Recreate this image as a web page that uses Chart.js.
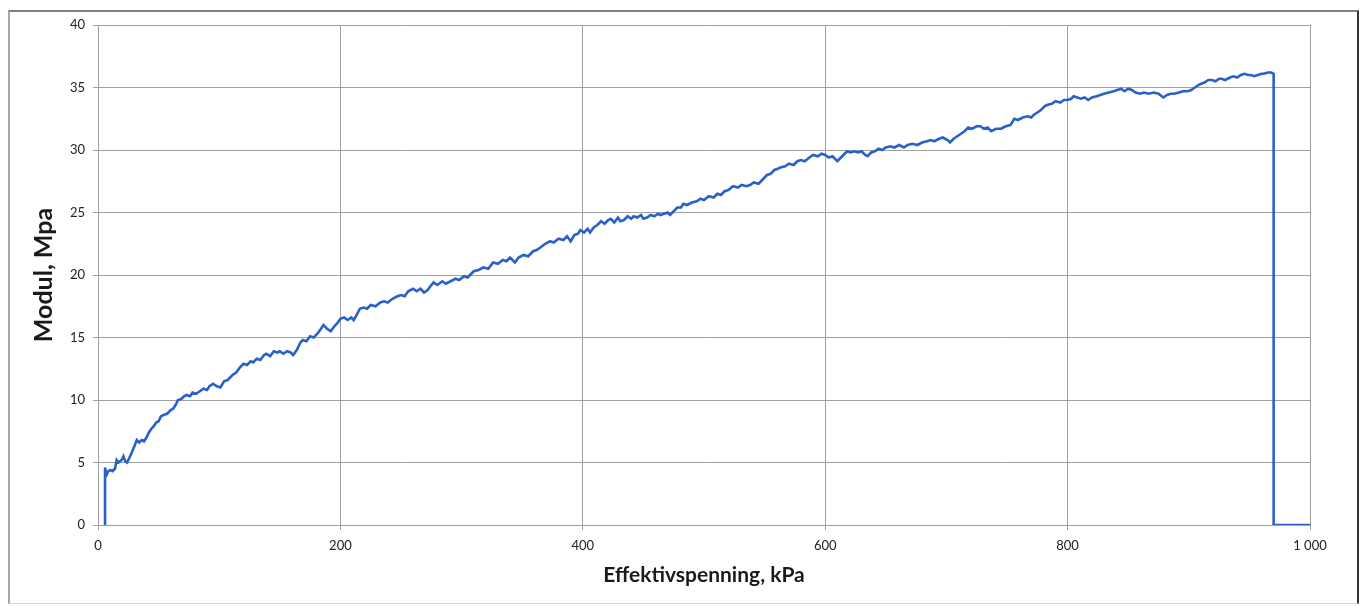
<!DOCTYPE html>
<html>
<head>
<meta charset="utf-8">
<script src="https://cdn.jsdelivr.net/npm/chart.js@4"></script>
<style>
  html, body { margin: 0; padding: 0; background: #fff; }
  #wrap { position: relative; width: 1359px; height: 607px; }
  #frame {
    position: absolute; left: 8px; top: 10px; width: 1347px; height: 591px;
    border-left: 2px solid #a8a8a8; border-top: 2px solid #808080;
    border-right: 2px solid #333; border-bottom: 1px solid #d8d8d8;
    pointer-events: none;
  }
  canvas { position: absolute; left: 0; top: 0; }
</style>
</head>
<body>
<div id="wrap">
  <canvas id="c" width="1359" height="607"></canvas>
  <div id="frame"></div>
</div>
<script>
// Effective stress (kPa) and measured modulus (MPa)
const effektivspenning = [
  5.8, 5.8, 7, 8.5, 10, 12, 14, 15.4, 17, 19.5,
  21, 22.5, 24, 27, 30, 32, 34, 36, 38, 40,
  42, 44, 46, 48, 50, 52, 54, 57, 60, 62,
  64, 66, 69, 71, 73, 76, 78, 81, 84, 87,
  90, 92, 95, 98, 101, 104, 107, 111, 114, 117,
  120, 123, 126, 128, 131, 134, 137, 139, 142, 145,
  148, 150, 153, 156, 159, 161, 164, 167, 169, 172,
  175, 178, 181, 184, 186, 189, 192, 195, 198, 200,
  203, 206, 209, 211, 214, 216, 219, 222, 225, 229,
  233, 236, 239, 243, 247, 250, 253, 256, 260, 263,
  266, 269, 272, 275, 277, 280, 284, 287, 291, 295,
  298, 302, 305, 308, 310, 314, 318, 322, 326, 330,
  334, 337, 340, 344, 347, 351, 355, 359, 362, 365,
  369, 373, 376, 380, 384, 387, 390, 393, 396, 398,
  401, 404, 406, 409, 412, 415, 418, 421, 423, 426,
  429, 431, 434, 437, 440, 442, 445, 448, 450, 453,
  456, 459, 462, 464, 467, 470, 472, 475, 478, 481,
  483, 486, 490, 494, 497, 500, 504, 508, 511, 514,
  517, 520, 524, 528, 531, 535, 538, 541, 545, 548,
  552, 555, 558, 561, 563, 567, 570, 574, 577, 580,
  583, 587, 590, 594, 597, 600, 603, 606, 610, 613,
  616, 618, 621, 624, 627, 630, 633, 635, 638, 641,
  644, 647, 650, 654, 657, 661, 665, 668, 672, 676,
  680, 684, 687, 690, 694, 697, 701, 703, 706, 709,
  712, 715, 718, 721, 725, 728, 731, 734, 737, 741,
  745, 749, 753, 756, 759, 763, 767, 770, 772, 775,
  778, 781, 783, 787, 790, 794, 797, 800, 803, 805,
  808, 811, 814, 817, 820, 824, 827, 830, 834, 838,
  841, 844, 847, 850, 853, 856, 860, 863, 867, 871,
  875, 879, 882, 885, 888, 892, 895, 899, 902, 905,
  908, 910, 913, 916, 919, 922, 925, 927, 930, 934,
  937, 940, 943, 946, 949, 951, 954, 957, 960, 962,
  965, 968, 970, 970, 1000
];

const modul = [
  0, 4.6, 4.0, 4.3, 4.4, 4.3, 4.5, 5.2, 5.0, 5.2,
  5.5, 5.1, 5.0, 5.6, 6.3, 6.8, 6.6, 6.8, 6.7, 7.0,
  7.4, 7.7, 7.9, 8.2, 8.3, 8.7, 8.8, 8.9, 9.2, 9.3,
  9.6, 10.0, 10.1, 10.3, 10.4, 10.3, 10.6, 10.5, 10.7, 10.9,
  10.8, 11.1, 11.3, 11.1, 11.0, 11.5, 11.6, 12.0, 12.2, 12.6,
  12.9, 12.8, 13.1, 13.0, 13.3, 13.2, 13.6, 13.7, 13.5, 13.9,
  13.8, 13.9, 13.7, 13.9, 13.8, 13.6, 14.0, 14.6, 14.8, 14.7,
  15.1, 15.0, 15.3, 15.7, 16.0, 15.7, 15.5, 15.9, 16.2, 16.5,
  16.6, 16.4, 16.6, 16.4, 16.9, 17.3, 17.4, 17.3, 17.6, 17.5,
  17.8, 17.9, 17.8, 18.1, 18.3, 18.4, 18.3, 18.7, 18.9, 18.7,
  18.9, 18.6, 18.8, 19.2, 19.4, 19.2, 19.5, 19.3, 19.5, 19.7,
  19.6, 19.9, 19.8, 20.1, 20.3, 20.4, 20.6, 20.5, 21.0, 20.9,
  21.2, 21.1, 21.4, 21.0, 21.4, 21.6, 21.5, 21.9, 22.0, 22.2,
  22.5, 22.7, 22.6, 22.9, 22.8, 23.1, 22.7, 23.2, 23.3, 23.6,
  23.4, 23.7, 23.4, 23.8, 24.0, 24.3, 24.1, 24.4, 24.5, 24.2,
  24.6, 24.3, 24.4, 24.7, 24.5, 24.7, 24.6, 24.8, 24.5, 24.6,
  24.8, 24.7, 24.9, 24.8, 24.9, 25.0, 24.8, 25.1, 25.4, 25.4,
  25.7, 25.6, 25.8, 25.9, 26.1, 26.0, 26.3, 26.2, 26.5, 26.4,
  26.7, 26.8, 27.1, 27.0, 27.2, 27.1, 27.2, 27.4, 27.3, 27.6,
  28.0, 28.1, 28.4, 28.5, 28.6, 28.7, 28.9, 28.8, 29.1, 29.2,
  29.1, 29.4, 29.6, 29.5, 29.7, 29.6, 29.4, 29.5, 29.1, 29.4,
  29.7, 29.9, 29.8, 29.9, 29.8, 29.9, 29.6, 29.5, 29.8, 29.9,
  30.1, 30.0, 30.2, 30.3, 30.2, 30.4, 30.2, 30.4, 30.5, 30.4,
  30.6, 30.7, 30.8, 30.7, 30.9, 31.0, 30.8, 30.6, 30.9, 31.1,
  31.3, 31.5, 31.8, 31.7, 31.9, 31.9, 31.7, 31.8, 31.5, 31.7,
  31.7, 31.9, 32.0, 32.5, 32.4, 32.6, 32.7, 32.6, 32.8, 33.0,
  33.2, 33.5, 33.6, 33.7, 33.9, 33.8, 34.0, 34.0, 34.1, 34.3,
  34.2, 34.1, 34.2, 34.0, 34.2, 34.3, 34.4, 34.5, 34.6, 34.7,
  34.8, 34.9, 34.7, 34.9, 34.8, 34.6, 34.5, 34.6, 34.5, 34.6,
  34.5, 34.2, 34.4, 34.5, 34.5, 34.6, 34.7, 34.7, 34.8, 35.0,
  35.2, 35.3, 35.4, 35.6, 35.6, 35.5, 35.7, 35.7, 35.6, 35.8,
  35.9, 35.8, 36.0, 36.1, 36.0, 36.0, 35.9, 36.0, 36.1, 36.1,
  36.2, 36.2, 36.1, 0, 0
];

// Axis setup
const xRange = [0, 1000];
const xStep = 200;
const yRange = [0, 40];
const yStep = 5;

const xTitle = 'Effektivspenning, kPa';
const yTitle = 'Modul, Mpa';

const points = effektivspenning.map((x, i) => ({ x: x, y: modul[i] }));

const gridColor = '#a0a0a0';
const fontFamily = 'Lato, "Open Sans", sans-serif';
const tickFont = { family: fontFamily, size: 13 };

new Chart(document.getElementById('c'), {
  type: 'scatter',
  data: {
    datasets: [{
      data: points,
      showLine: true,
      borderColor: '#2a61c8',
      borderWidth: 2.6,
      pointRadius: 0,
      tension: 0,
      fill: false
    }]
  },
  options: {
    responsive: false,
    animation: false,
    events: [],
    layout: { padding: { left: 10, right: 49, top: 25, bottom: 10 } },
    plugins: { legend: { display: false }, tooltip: { enabled: false } },
    scales: {
      x: {
        type: 'linear',
        min: xRange[0],
        max: xRange[1],
        ticks: {
          stepSize: xStep,
          color: '#222',
          font: tickFont,
          padding: 8,
          maxRotation: 0,
          callback: v => String(v).replace(/\B(?=(\d{3})+(?!\d))/g, ' ')
        },
        grid: { color: gridColor, lineWidth: 1, tickLength: 5 },
        border: { color: gridColor, width: 1 },
        title: {
          display: true,
          text: xTitle,
          color: '#1a1a1a',
          font: { family: fontFamily, size: 21, weight: 'bold' },
          padding: { top: 9, bottom: 9 }
        },
        afterFit: s => { s.height = 72; }
      },
      y: {
        type: 'linear',
        min: yRange[0],
        max: yRange[1],
        ticks: {
          stepSize: yStep,
          color: '#222',
          font: tickFont,
          padding: 8
        },
        grid: { color: gridColor, lineWidth: 1, tickLength: 5 },
        border: { color: gridColor, width: 1 },
        title: {
          display: true,
          text: yTitle,
          color: '#1a1a1a',
          font: { family: fontFamily, size: 25, weight: 'bold' },
          padding: { top: 19, bottom: 0 }
        },
        afterFit: s => { s.width = 88; }
      }
    }
  }
});
</script>
</body>
</html>
